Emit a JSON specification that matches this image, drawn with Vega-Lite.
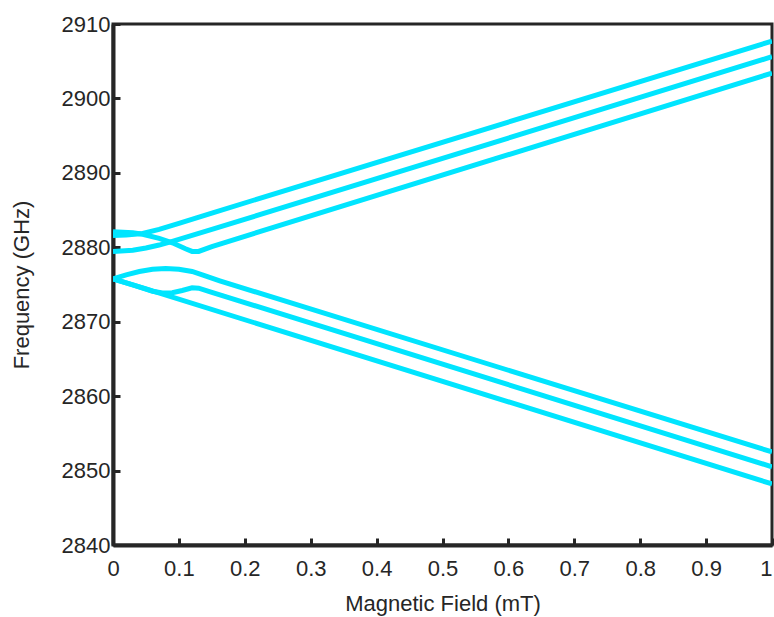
{
  "$schema": "https://vega.github.io/schema/vega-lite/v6.json",
  "width": 659,
  "height": 521,
  "autosize": "none",
  "padding": {"left": 113, "top": 24, "right": 2, "bottom": 72},
  "background": "white",
  "config": {
    "view": {"stroke": "#262626", "strokeWidth": 3},
    "axis": {
      "grid": false,
      "labelFlush": false,
      "domainColor": "#262626",
      "domainWidth": 4,
      "tickColor": "#262626",
      "tickWidth": 3,
      "tickSize": -7,
      "labelFont": "Liberation Sans",
      "labelFontSize": 22,
      "labelColor": "#262626",
      "titleFont": "Liberation Sans",
      "titleFontSize": 22,
      "titleFontWeight": "normal",
      "titleColor": "#262626"
    }
  },
  "data": {
    "values": [
      {"line": "Ua", "B": 0, "f": 2881.6},
      {"line": "Ua", "B": 0.02, "f": 2881.65},
      {"line": "Ua", "B": 0.045, "f": 2881.85},
      {"line": "Ua", "B": 0.07, "f": 2882.4},
      {"line": "Ua", "B": 0.1, "f": 2883.2},
      {"line": "Ua", "B": 0.15, "f": 2884.6},
      {"line": "Ua", "B": 1, "f": 2907.7},
      {"line": "Ub", "B": 0, "f": 2879.45},
      {"line": "Ub", "B": 0.03, "f": 2879.6},
      {"line": "Ub", "B": 0.05, "f": 2879.9},
      {"line": "Ub", "B": 0.07, "f": 2880.3},
      {"line": "Ub", "B": 0.09, "f": 2880.8},
      {"line": "Ub", "B": 0.12, "f": 2881.6},
      {"line": "Ub", "B": 0.15, "f": 2882.4},
      {"line": "Ub", "B": 1, "f": 2905.6},
      {"line": "Ud", "B": 0, "f": 2882.1},
      {"line": "Ud", "B": 0.03, "f": 2881.95},
      {"line": "Ud", "B": 0.045, "f": 2881.75},
      {"line": "Ud", "B": 0.07, "f": 2881.2},
      {"line": "Ud", "B": 0.09, "f": 2880.6},
      {"line": "Ud", "B": 0.11, "f": 2879.8},
      {"line": "Ud", "B": 0.12, "f": 2879.45},
      {"line": "Ud", "B": 0.13, "f": 2879.45},
      {"line": "Ud", "B": 0.15, "f": 2880.1},
      {"line": "Ud", "B": 1, "f": 2903.4},
      {"line": "La", "B": 0, "f": 2875.75},
      {"line": "La", "B": 0.02, "f": 2876.3},
      {"line": "La", "B": 0.04, "f": 2876.75},
      {"line": "La", "B": 0.06, "f": 2877.05},
      {"line": "La", "B": 0.08, "f": 2877.15},
      {"line": "La", "B": 0.1, "f": 2877.05},
      {"line": "La", "B": 0.12, "f": 2876.75},
      {"line": "La", "B": 0.14, "f": 2876.15},
      {"line": "La", "B": 0.162, "f": 2875.5},
      {"line": "La", "B": 1, "f": 2852.5},
      {"line": "Lb", "B": 0, "f": 2875.75},
      {"line": "Lb", "B": 0.03, "f": 2874.95},
      {"line": "Lb", "B": 0.06, "f": 2874.1},
      {"line": "Lb", "B": 0.075, "f": 2873.85},
      {"line": "Lb", "B": 0.09, "f": 2873.9},
      {"line": "Lb", "B": 0.105, "f": 2874.2},
      {"line": "Lb", "B": 0.12, "f": 2874.55},
      {"line": "Lb", "B": 0.13, "f": 2874.5},
      {"line": "Lb", "B": 0.15, "f": 2873.95},
      {"line": "Lb", "B": 1, "f": 2850.5},
      {"line": "Lc", "B": 0, "f": 2875.75},
      {"line": "Lc", "B": 0.05, "f": 2874.4},
      {"line": "Lc", "B": 1, "f": 2848.2}
    ]
  },
  "mark": {"type": "line", "color": "#00E5FF", "strokeWidth": 5, "clip": true},
  "encoding": {
    "x": {
      "field": "B", "type": "quantitative",
      "scale": {"domain": [0, 1], "nice": false},
      "axis": {"title": "Magnetic Field (mT)", "values": [0, 0.1, 0.2, 0.3, 0.4, 0.5, 0.6, 0.7, 0.8, 0.9, 1], "format": "~g", "labelPadding": 20, "titlePadding": 14, "labelAlign": {"expr": "datum.value == 1 ? 'right' : 'center'"}}
    },
    "y": {
      "field": "f", "type": "quantitative",
      "scale": {"domain": [2840, 2910], "nice": false, "zero": false},
      "axis": {"title": "Frequency (GHz)", "values": [2840, 2850, 2860, 2870, 2880, 2890, 2900, 2910], "format": "d", "labelPadding": 10, "titlePadding": 28}
    },
    "detail": {"field": "line", "type": "nominal"}
  }
}
